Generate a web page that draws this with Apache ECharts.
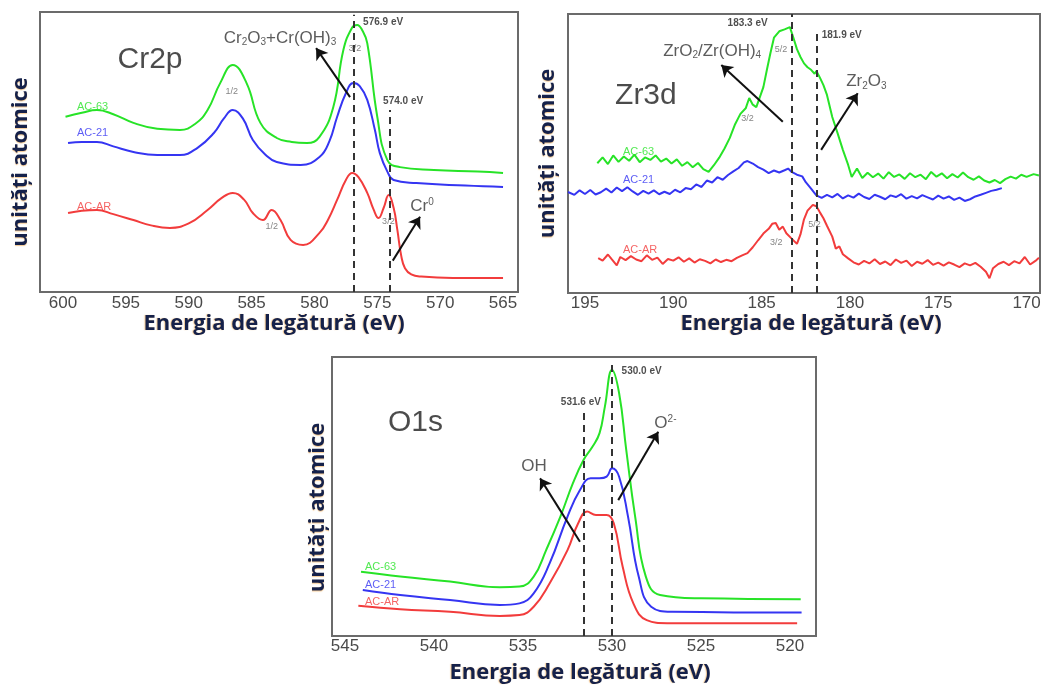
<!DOCTYPE html>
<html>
<head>
<meta charset="utf-8">
<script src="https://cdn.jsdelivr.net/npm/echarts@6/dist/echarts.min.js"></script>
<style>
  html, body { margin: 0; padding: 0; background: #fff; }
  #chart { width: 1041px; height: 686px; }
</style>
</head>
<body>
<div id="chart"></div>
<script>
// XPS spectra, each point = [binding energy (eV), intensity (arb. units)]

// ---- Cr2p ----
const cr2pAC63 = [
  [599.8, 62.6], [598.5, 64.0], [597.3, 65.0], [596.0, 63.5], [594.4, 60.4], [592.5, 58.3],
  [590.7, 57.9], [589.5, 60.0], [588.5, 65.0], [587.5, 74.6], [586.5, 81.1], [585.4, 74.6],
  [584.3, 60.4], [583.0, 55.0], [581.8, 53.6], [580.6, 53.2], [579.6, 55.4], [578.5, 66.1],
  [577.7, 86.4], [577.0, 94.5], [576.6, 95.4], [576.2, 93.5], [575.8, 88.9], [575.0, 62.5],
  [574.2, 47.1], [573.2, 44.6], [570.5, 43.6], [567.0, 43.0], [565.0, 42.5]
];
const cr2pAC21 = [
  [599.6, 53.2], [598.5, 53.6], [597.3, 53.6], [596.0, 52.0], [594.4, 50.0], [592.5, 48.9],
  [590.7, 48.9], [589.3, 51.5], [588.0, 56.8], [587.2, 62.0], [586.5, 65.0], [585.7, 62.0],
  [584.9, 54.3], [583.9, 49.0], [583.0, 46.4], [581.1, 45.4], [579.6, 48.2], [578.8, 54.0],
  [578.2, 62.5], [577.5, 71.0], [576.9, 74.6], [576.4, 73.5], [575.8, 68.6], [575.2, 58.0],
  [574.8, 49.6], [574.2, 43.0], [573.7, 40.0], [571.9, 38.9], [568.0, 38.0], [565.0, 37.5]
];
const cr2pACAR = [
  [599.6, 28.2], [598.5, 29.0], [597.3, 29.3], [596.0, 27.8], [594.4, 25.7], [593.0, 23.8],
  [591.5, 22.9], [590.0, 24.5], [588.5, 29.3], [587.4, 33.5], [586.5, 35.4], [585.6, 33.0],
  [584.9, 28.2], [584.1, 25.7], [583.4, 29.3], [582.7, 25.7], [581.9, 18.6], [580.9, 16.8],
  [579.6, 21.1], [578.9, 26.0], [578.2, 32.9], [577.5, 40.0], [577.0, 42.5], [576.5, 41.0],
  [575.8, 35.4], [575.3, 29.5], [574.9, 26.4], [574.5, 30.0], [574.1, 34.6], [573.7, 30.0],
  [573.4, 22.0], [573.1, 13.0], [572.8, 8.5], [572.3, 6.3], [571.5, 5.5], [569.0, 5.0], [565.0, 5.0]
];

// ---- Zr3d ----
const zr3dAC63 = [
  [194.3, 46.5], [194.0, 48.6], [193.7, 46.2], [193.4, 49.3], [193.1, 47.0], [192.8, 48.9],
  [192.5, 47.4], [192.2, 49.6], [191.9, 46.9], [191.6, 48.6], [191.3, 47.7], [191.0, 49.3],
  [190.7, 47.1], [190.4, 48.2], [190.1, 46.4], [189.8, 47.9], [189.5, 45.6], [189.2, 46.9],
  [188.9, 45.1], [188.6, 46.6], [188.3, 44.4], [188.0, 43.4], [187.7, 45.8], [187.4, 48.5],
  [187.1, 51.8], [186.8, 55.6], [186.5, 60.5], [186.2, 64.2], [185.9, 66.2], [185.7, 69.9],
  [185.5, 67.5], [185.3, 66.6], [185.1, 70.2], [184.9, 73.8], [184.7, 80.0], [184.5, 86.0],
  [184.3, 91.5], [184.0, 93.8], [183.7, 94.5], [183.4, 95.3], [183.2, 91.5], [183.0, 87.4],
  [182.8, 84.6], [182.6, 82.3], [182.4, 80.9], [182.2, 80.0], [182.0, 78.6], [181.9, 79.6],
  [181.7, 77.2], [181.5, 74.5], [181.3, 71.0], [181.0, 63.1], [180.7, 57.3], [180.4, 51.3],
  [180.1, 45.9], [179.9, 41.6], [179.6, 44.6], [179.3, 41.2], [179.0, 43.1], [178.7, 41.5],
  [178.4, 42.8], [178.1, 41.0], [177.8, 43.3], [177.5, 41.6], [177.2, 42.5], [176.9, 40.9],
  [176.6, 42.9], [176.3, 41.5], [176.0, 42.4], [175.7, 40.8], [175.4, 43.4], [175.1, 41.7],
  [174.8, 42.9], [174.5, 41.1], [174.2, 42.6], [173.9, 41.4], [173.6, 43.2], [173.3, 41.5],
  [173.0, 40.6], [172.7, 41.8], [172.4, 40.3], [172.1, 39.6], [171.8, 40.5], [171.5, 39.4],
  [171.2, 40.8], [170.9, 41.7], [170.6, 41.0], [170.3, 42.4], [170.0, 41.6], [169.6, 42.6],
  [169.3, 42.1]
];
const zr3dAC21 = [
  [195.96, 36.2], [195.6, 35.2], [195.3, 36.8], [195.0, 35.5], [194.7, 36.9], [194.4, 35.3],
  [194.1, 36.1], [193.8, 37.4], [193.5, 36.0], [193.2, 37.8], [192.9, 36.5], [192.6, 37.9],
  [192.3, 36.4], [192.0, 35.2], [191.7, 36.6], [191.4, 35.6], [191.1, 36.8], [190.8, 35.4],
  [190.5, 36.3], [190.2, 35.5], [189.9, 37.0], [189.6, 36.1], [189.3, 37.6], [189.0, 37.2],
  [188.7, 38.9], [188.4, 38.0], [188.1, 40.3], [187.8, 39.6], [187.5, 41.5], [187.2, 40.6],
  [186.9, 42.3], [186.6, 43.6], [186.3, 44.8], [186.0, 46.8], [185.8, 47.3], [185.5, 46.4],
  [185.2, 45.1], [184.9, 44.2], [184.6, 43.0], [184.3, 43.9], [184.0, 43.2], [183.7, 44.0],
  [183.5, 44.6], [183.3, 43.4], [183.0, 42.4], [182.7, 41.8], [182.5, 39.7], [182.2, 37.4],
  [181.9, 35.0], [181.6, 34.1], [181.3, 35.2], [181.0, 34.3], [180.7, 35.5], [180.4, 33.9],
  [180.1, 35.0], [179.8, 34.2], [179.5, 35.6], [179.2, 34.4], [178.9, 33.7], [178.6, 35.2],
  [178.3, 34.5], [178.0, 33.6], [177.7, 35.0], [177.4, 34.4], [177.1, 35.4], [176.8, 33.8],
  [176.5, 34.7], [176.2, 33.9], [175.9, 35.1], [175.6, 34.3], [175.3, 33.5], [175.0, 34.9],
  [174.7, 33.8], [174.4, 34.6], [174.1, 33.4], [173.8, 34.2], [173.5, 33.0], [173.2, 33.6],
  [172.9, 34.6], [172.6, 35.2], [172.3, 35.9], [172.0, 36.6], [171.7, 37.0], [171.4, 37.6]
];
const zr3dACAR = [
  [194.25, 12.5], [194.0, 11.6], [193.7, 13.8], [193.5, 12.2], [193.2, 9.9], [193.0, 12.9],
  [192.7, 11.8], [192.4, 13.2], [192.1, 12.0], [191.8, 11.4], [191.5, 13.5], [191.2, 11.9],
  [190.9, 12.7], [190.6, 10.4], [190.3, 12.2], [190.0, 11.6], [189.7, 12.8], [189.4, 11.2],
  [189.1, 12.4], [188.8, 10.9], [188.5, 12.1], [188.2, 11.5], [187.9, 10.6], [187.6, 12.0],
  [187.3, 11.1], [187.0, 11.9], [186.7, 11.4], [186.4, 12.6], [186.1, 13.5], [185.8, 14.3],
  [185.5, 16.4], [185.2, 18.9], [184.9, 21.3], [184.6, 23.0], [184.4, 24.8], [184.2, 25.1],
  [184.0, 22.7], [183.8, 23.8], [183.6, 21.4], [183.3, 19.5], [183.0, 17.6], [182.8, 21.0],
  [182.6, 26.4], [182.4, 29.5], [182.1, 31.6], [181.9, 31.1], [181.7, 28.9], [181.5, 26.8],
  [181.3, 24.1], [181.0, 20.2], [180.8, 15.9], [180.6, 16.7], [180.4, 13.9], [180.1, 12.4],
  [179.8, 11.0], [179.5, 10.2], [179.2, 11.5], [178.9, 10.6], [178.6, 12.1], [178.3, 10.4],
  [178.0, 11.3], [177.7, 10.0], [177.4, 12.0], [177.1, 10.8], [176.8, 11.6], [176.5, 9.7],
  [176.2, 11.2], [175.9, 10.5], [175.6, 11.8], [175.3, 10.1], [175.0, 10.9], [174.7, 9.8],
  [174.4, 11.0], [174.1, 10.2], [173.8, 9.3], [173.5, 10.6], [173.2, 9.9], [172.9, 10.8],
  [172.6, 9.4], [172.3, 7.6], [172.1, 5.3], [171.9, 8.9], [171.6, 10.4], [171.3, 11.2],
  [171.0, 10.0], [170.7, 11.4], [170.4, 10.6], [170.1, 12.9], [169.8, 10.2], [169.5, 11.5],
  [169.3, 12.6]
];

// ---- O1s ----
const o1sAC63 = [
  [544.1, 23.0], [541.9, 21.3], [539.1, 19.5], [536.3, 17.5], [535.2, 17.7], [534.4, 21.3],
  [533.7, 30.8], [532.9, 42.8], [532.2, 54.7], [531.6, 63.1], [531.1, 67.8], [530.7, 72.7],
  [530.4, 82.2], [530.0, 95.3], [529.6, 87.0], [529.2, 66.7], [528.7, 42.8], [528.1, 21.3],
  [527.3, 14.7], [525.0, 13.5], [519.4, 13.2]
];
const o1sAC21 = [
  [544.0, 16.5], [541.9, 14.7], [539.1, 12.9], [536.3, 11.1], [535.2, 11.7], [534.4, 15.3],
  [533.5, 26.1], [532.5, 42.8], [531.8, 52.3], [531.2, 56.5], [530.7, 56.5], [530.3, 57.1],
  [530.0, 60.1], [529.6, 57.1], [529.1, 42.8], [528.5, 21.3], [527.8, 10.5], [526.6, 8.7],
  [519.35, 8.4]
];
const o1sACAR = [
  [544.25, 10.8], [541.9, 9.6], [539.1, 8.7], [536.3, 7.2], [535.2, 7.5], [534.4, 10.5],
  [533.5, 18.9], [532.5, 30.8], [531.9, 40.4], [531.4, 44.6], [530.9, 43.4], [530.3, 43.4],
  [529.9, 40.4], [529.4, 24.8], [528.8, 11.7], [528.05, 5.7], [526.9, 4.6], [519.6, 4.6]
];

// tick labels and reference energies
const cr2pTicks = [600, 595, 590, 585, 580, 575, 570, 565];
const zr3dTicks = [195, 190, 185, 180, 175, 170];
const o1sTicks = [545, 540, 535, 530, 525, 520];
const cr2pLines = [576.9, 574.0];
const zr3dLines = [183.3, 181.9];
const o1sLines = [530.0, 531.6];
const sampleNames = ['AC-63', 'AC-21', 'AC-AR'];

const GREEN = '#27e327', BLUE = '#3535f2', RED = '#f23c3c';
const SAMPLE_COLORS = [GREEN, BLUE, RED];
const TITLE_COLOR = '#15214a';
const XNAME = 'Energia de legătură (eV)';
const YNAME = 'unități atomice';

const richText = {
  n: { fontSize: 17, color: '#333', fontFamily: 'Liberation Sans' },
  s: { fontSize: 10, color: '#333', fontFamily: 'Liberation Sans', verticalAlign: 'bottom', padding: [8, 0, 0, 0] },
  p: { fontSize: 10, color: '#333', fontFamily: 'Liberation Sans', verticalAlign: 'top', padding: [0, 0, 8, 0] }
};

// a text note placed at a data coordinate
function note(x, y, text, o) {
  o = o || {};
  return {
    value: [x, y],
    label: Object.assign({
      show: true,
      formatter: text,
      position: o.pos || 'inside',
      distance: 0,
      color: '#333',
      fontFamily: 'Liberation Sans',
      fontSize: 17,
      rich: richText
    }, o.label || {})
  };
}
const bold = { fontSize: 10, fontWeight: 'bold', color: '#222' };
const tiny = { fontSize: 9, color: '#666' };
const big = { fontSize: 30, color: '#1e1e1e' };
const tag = (c) => ({ fontSize: 11, color: c });

function arrow(x1, y1, x2, y2) {
  return [
    { coord: [x1, y1], symbol: 'none', lineStyle: { color: '#111', width: 2, type: 'solid' } },
    { coord: [x2, y2], symbol: 'arrow', symbolSize: 11 }
  ];
}
function dashed(x, top) {
  return [
    { coord: [x, 0], symbol: 'none', lineStyle: { color: '#333', width: 2, type: [7, 5] } },
    { coord: [x, top], symbol: 'none' }
  ];
}

const titleFont = {
  fontFamily: 'Open Sans', fontWeight: 'bold', fontSize: 22, color: TITLE_COLOR,
  textShadowColor: 'rgba(235,150,40,0.5)', textShadowBlur: 1
};

function xAxisFor(i, min, max, ticks, nameGap, margin, pad) {
  return {
    type: 'value', gridIndex: i, inverse: true, min: min, max: max,
    axisLine: { show: false }, axisTick: { show: false }, splitLine: { show: false },
    axisLabel: {
      customValues: ticks, margin: margin, fontSize: 17, color: '#4a4a4a',
      fontFamily: 'Liberation Sans'
    },
    name: XNAME, nameLocation: 'middle', nameGap: nameGap,
    nameTextStyle: Object.assign({ textShadowOffsetX: -1, padding: pad }, titleFont)
  };
}
function yAxisFor(i, nameGap, shift) {
  return {
    type: 'value', gridIndex: i, min: 0, max: 100,
    axisLine: { show: false }, axisTick: { show: false }, axisLabel: { show: false },
    splitLine: { show: false },
    name: YNAME, nameLocation: 'middle', nameRotate: 90, nameGap: nameGap,
    nameTextStyle: Object.assign({ padding: [0, shift, 0, 0], textShadowOffsetY: 1 }, titleFont)
  };
}
function spectra(i, sets, smooth) {
  return sets.map((d, k) => ({
    type: 'line', name: sampleNames[k], xAxisIndex: i, yAxisIndex: i,
    data: d, showSymbol: false, smooth: smooth,
    lineStyle: { color: SAMPLE_COLORS[k], width: 2 }, itemStyle: { color: SAMPLE_COLORS[k] },
    z: 3 - k, silent: true
  }));
}
function notes(i, data, lines) {
  return {
    type: 'scatter', xAxisIndex: i, yAxisIndex: i, symbolSize: 0, silent: true, z: 10,
    data: data,
    markLine: { silent: true, animation: false, symbol: ['none', 'none'], label: { show: false }, data: lines }
  };
}

const gridBase = { show: true, borderColor: '#6b6b6b', borderWidth: 2, containLabel: false, outerBoundsMode: 'none' };

const option = {
  animation: false,
  grid: [
    Object.assign({ left: 40, top: 12, width: 478, height: 280 }, gridBase),
    Object.assign({ left: 568, top: 14, width: 472, height: 279 }, gridBase),
    Object.assign({ left: 332, top: 357, width: 484, height: 279 }, gridBase)
  ],
  xAxis: [
    xAxisFor(0, 563.81, 601.83, cr2pTicks, 18, 3, [0, 10, 0, 0]),
    xAxisFor(1, 169.24, 195.96, zr3dTicks, 10, 2, [0, 0, 0, 14]),
    xAxisFor(2, 518.54, 545.73, o1sTicks, 26, 2, [0, 0, 0, 12])
  ],
  yAxis: [
    yAxisFor(0, 8, 20),
    yAxisFor(1, 9, 0),
    yAxisFor(2, 3, 22)
  ],
  series: [
    ...spectra(0, [cr2pAC63, cr2pAC21, cr2pACAR], 0.45),
    ...spectra(1, [zr3dAC63, zr3dAC21, zr3dACAR], false),
    ...spectra(2, [o1sAC63, o1sAC21, o1sACAR], 0.45),

    notes(0, [
      note(593.08, 82.9, 'Cr2p', { label: big }),
      note(582.74, 90.7, '{n|Cr}{s|2}{n|O}{s|3}{n|+Cr(OH)}{s|3}'),
      note(571.44, 30.7, '{n|Cr}{p|0}'),
      note(576.13, 96.2, cr2pLines[0].toFixed(1) + ' eV', { pos: 'right', label: bold }),
      note(574.54, 68.3, cr2pLines[1].toFixed(1) + ' eV', { pos: 'right', label: bold }),
      note(576.77, 87.0, '3/2', { label: tiny }),
      note(586.58, 71.5, '1/2', { label: tiny }),
      note(583.4, 23.3, '1/2', { label: tiny }),
      note(574.12, 25.1, '3/2', { label: tiny }),
      note(598.89, 66.1, sampleNames[0], { pos: 'right', label: tag(GREEN) }),
      note(598.89, 56.7, sampleNames[1], { pos: 'right', label: tag(BLUE) }),
      note(598.89, 30.5, sampleNames[2], { pos: 'right', label: tag(RED) })
    ], [
      dashed(cr2pLines[0], 99), dashed(cr2pLines[1], 65),
      arrow(577.17, 69.6, 579.87, 87.1),
      arrow(573.77, 11.2, 571.6, 26.9)
    ]),

    notes(1, [
      note(191.55, 70.6, 'Zr3d', { label: big }),
      note(187.8, 86.5, '{n|ZrO}{s|2}{n|/Zr(OH)}{s|4}'),
      note(179.07, 75.7, '{n|Zr}{s|2}{n|O}{s|3}'),
      note(184.66, 96.7, zr3dLines[0].toFixed(1) + ' eV', { pos: 'left', label: bold }),
      note(181.6, 92.5, zr3dLines[1].toFixed(1) + ' eV', { pos: 'right', label: bold }),
      note(185.8, 62.7, '3/2', { label: tiny }),
      note(183.9, 87.1, '5/2', { label: tiny }),
      note(184.17, 18.0, '3/2', { label: tiny }),
      note(182.0, 24.7, '5/2', { label: tiny }),
      note(192.85, 50.6, sampleNames[0], { pos: 'right', label: tag(GREEN) }),
      note(192.85, 40.5, sampleNames[1], { pos: 'right', label: tag(BLUE) }),
      note(192.85, 15.4, sampleNames[2], { pos: 'right', label: tag(RED) })
    ], [
      dashed(zr3dLines[0], 100), dashed(zr3dLines[1], 94),
      arrow(183.8, 61.4, 187.28, 81.7),
      arrow(181.63, 51.3, 179.56, 71.6)
    ]),

    notes(2, [
      note(541.04, 76.5, 'O1s', { label: big }),
      note(534.38, 60.7, 'OH'),
      note(527.0, 76.2, '{n|O}{p|2-}'),
      note(529.46, 95.0, o1sLines[0].toFixed(1) + ' eV', { pos: 'right', label: bold }),
      note(531.75, 83.8, o1sLines[1].toFixed(1) + ' eV', { label: bold }),
      note(543.88, 24.8, sampleNames[0], { pos: 'right', label: tag(GREEN) }),
      note(543.88, 18.3, sampleNames[1], { pos: 'right', label: tag(BLUE) }),
      note(543.88, 12.3, sampleNames[2], { pos: 'right', label: tag(RED) })
    ], [
      dashed(o1sLines[0], 98), dashed(o1sLines[1], 81),
      arrow(531.8, 33.8, 534.04, 56.5),
      arrow(529.65, 48.7, 527.4, 73.2)
    ])
  ]
};

const chart = echarts.init(document.getElementById('chart'), null, { renderer: 'canvas' });
chart.setOption(option);
</script>
</body>
</html>
